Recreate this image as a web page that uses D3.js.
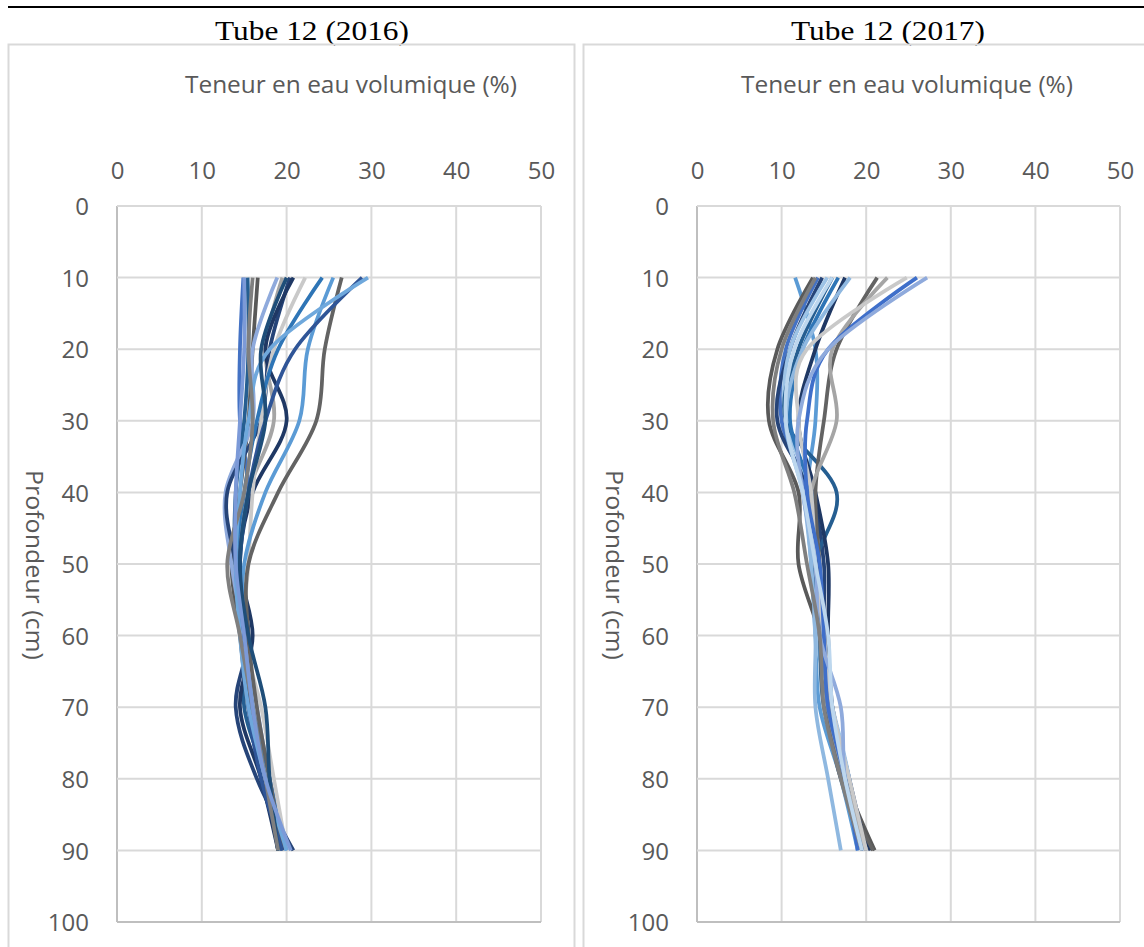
<!DOCTYPE html>
<html>
<head>
<meta charset="utf-8">
<script src="https://cdn.jsdelivr.net/npm/d3@7/dist/d3.min.js"></script>
<style>
  body { margin: 0; background: #fff; }
  svg { display: block; }
</style>
</head>
<body>
<div id="chart"></div>
<script>
const depths = [10, 20, 30, 40, 50, 60, 70, 80, 90]
const xTicks = [0, 10, 20, 30, 40, 50]
const yTicks = [0, 10, 20, 30, 40, 50, 60, 70, 80, 90, 100]

const titles = ["Tube 12 (2016)", "Tube 12 (2017)"]
const xTitle = "Teneur en eau volumique (%)"
const yTitle = "Profondeur (cm)"

// teneur en eau par profondeur, 2016
const colors2016 = ["#4472C4", "#255E91", "#595959", "#8FAADC", "#A5A5A5", "#264478", "#1F3864", "#C9C9C9",
  "#2E75B6", "#5B9BD5", "#636363", "#2F5597", "#6FA8DC", "#1F4E79", "#7F7F7F", "#7C9AD8"]
const values2016 = [
  [14.9, 14.5, 14.5, 15.5, 14, 15, 15.5, 17, 19.5],
  [15.4, 15.5, 15, 14, 14, 15.5, 15, 17.5, 19],
  [16.6, 16, 15.5, 14.5, 13.5, 14.5, 15.5, 17.5, 19],
  [18.9, 16, 16, 12.8, 13.5, 15, 16.5, 18, 20],
  [19.5, 17.5, 18.5, 15.5, 14.5, 15.5, 15.5, 17.5, 20],
  [20.4, 18, 17, 13, 14, 15.5, 14, 16.5, 20.8],
  [20.8, 17.5, 20, 16, 14.5, 16, 14.5, 17, 19],
  [22.2, 18.5, 17, 16, 15.5, 15, 17, 18.5, 20],
  [24.2, 19, 16.5, 15, 14, 15, 16, 18, 19.5],
  [25.5, 22.5, 21.5, 17.5, 15, 15, 16, 17.5, 20],
  [26.5, 24.5, 23.5, 19, 15.5, 15.5, 16.5, 18, 19.5],
  [28.9, 21, 17.5, 15.5, 14.5, 15, 15.5, 17, 19.5],
  [29.6, 18, 15.5, 14.5, 14, 14.5, 15.5, 17.5, 20],
  [20, 17, 17.5, 15.5, 14.5, 15.5, 17.5, 18, 19],
  [16, 15.5, 16, 15, 13, 14.5, 16, 17.5, 19],
  [15, 15, 14.5, 14, 14, 15, 16, 17.5, 20.5]
]

// teneur en eau par profondeur, 2017
const colors2017 = ["#5B9BD5", "#595959", "#4472C4", "#264478", "#9DC3E6", "#255E91", "#2E75B6", "#1F3864",
  "#8FB8E0", "#636363", "#A5A5A5", "#C9C9C9", "#3F6FCA", "#8FAADC", "#7F7F7F", "#BDD7EE"]
const values2017 = [
  [11.6, 14, 14, 13, 13.5, 14, 14.5, 17, 19],
  [13.7, 9.5, 8.5, 12, 12, 14.5, 15.5, 17.5, 21],
  [14.3, 10.5, 10, 13, 14, 15, 16, 18, 19.5],
  [14.8, 11, 9.5, 13.5, 15, 15, 16, 18, 20],
  [15.4, 11, 10.5, 13.5, 14, 14, 16, 18, 19],
  [16, 12, 10.5, 16.5, 14, 14.5, 15, 17.5, 19.5],
  [16.7, 12.5, 11, 13.5, 14, 15, 15.5, 17.5, 19.5],
  [17.5, 14, 12, 14, 15.5, 15.5, 16, 17.5, 20.5],
  [18.1, 12.5, 10.5, 12.5, 13.5, 14, 14, 15.5, 17],
  [21.3, 16.5, 15, 14, 14.5, 15, 15.5, 17, 20.8],
  [22.5, 16, 16.5, 13.5, 14, 15, 15.5, 17.5, 20],
  [24.8, 13, 12, 13.5, 14, 15, 16, 18, 20],
  [26, 15.5, 13, 13, 14.5, 15, 15.5, 17.5, 19],
  [27.2, 15.5, 12, 12.5, 14, 14.5, 17, 17.5, 19.5],
  [14, 10, 9, 11.5, 13, 14.5, 15, 17, 19.5],
  [16, 11.5, 10.5, 12.5, 14, 15.5, 16, 17.5, 19.5]
]

const W = 1144, H = 947
const FONT = "'Open Sans', sans-serif"
const TEXT = "#595959"
const GRID = "#D9D9D9"

const svg = d3.select("#chart").append("svg")
  .attr("width", W)
  .attr("height", H)

// black rule across the top
svg.append("line")
  .attr("x1", 8).attr("x2", W)
  .attr("y1", 7).attr("y2", 7)
  .attr("stroke", "#000")
  .attr("stroke-width", 2)

const panels = [
  { title: titles[0], titleX: 312, frameX: 8.5, frameW: 566, left: 117, right: 541, labelX: 89, xTitleX: 351, yTitleX: 26, values: values2016, colors: colors2016 },
  { title: titles[1], titleX: 888, frameX: 583.5, frameW: 580, left: 697, right: 1120, labelX: 669, xTitleX: 907, yTitleX: 606, values: values2017, colors: colors2017 }
]

const TOP = 206, BOTTOM = 922

panels.forEach(p => {
  const g = svg.append("g")

  // title above the frame
  g.append("text")
    .attr("x", p.titleX)
    .attr("y", 40)
    .attr("text-anchor", "middle")
    .attr("font-family", "'Liberation Serif', 'Times New Roman', serif")
    .attr("font-size", "28px")
    .attr("textLength", 194)
    .attr("lengthAdjust", "spacingAndGlyphs")
    .attr("fill", "#000")
    .text(p.title)

  // chart frame
  g.append("rect")
    .attr("x", p.frameX)
    .attr("y", 44.5)
    .attr("width", p.frameW)
    .attr("height", 960)
    .attr("fill", "none")
    .attr("stroke", GRID)
    .attr("stroke-width", 2)

  const x = d3.scaleLinear().domain([0, 50]).range([p.left, p.right])
  const y = d3.scaleLinear().domain([0, 100]).range([TOP, BOTTOM])

  // grid
  g.append("g").selectAll("line.v").data(xTicks).join("line")
    .attr("x1", d => x(d)).attr("x2", d => x(d))
    .attr("y1", TOP).attr("y2", BOTTOM)
    .attr("stroke", d => d === 0 ? "#BFBFBF" : GRID)
    .attr("stroke-width", 2)

  g.append("g").selectAll("line.h").data(yTicks).join("line")
    .attr("x1", p.left).attr("x2", p.right)
    .attr("y1", d => y(d)).attr("y2", d => y(d))
    .attr("stroke", d => d === 100 ? "#BFBFBF" : GRID)
    .attr("stroke-width", 2)

  // x axis on top, y axis on left, drawn with d3 axes then restyled
  const xAxis = g.append("g")
    .attr("transform", `translate(0, ${TOP - 27})`)
    .call(d3.axisTop(x).tickValues(xTicks).tickSize(0).tickPadding(0))
  const yAxis = g.append("g")
    .attr("transform", `translate(${p.labelX}, 0)`)
    .call(d3.axisLeft(y).tickValues(yTicks).tickSize(0).tickPadding(0))

  ;[xAxis, yAxis].forEach(a => {
    a.select(".domain").remove()
    a.selectAll("text")
      .attr("font-family", FONT)
      .attr("font-size", "24px")
      .attr("fill", TEXT)
  })
  yAxis.selectAll("text").attr("dy", "0.36em")

  // axis titles
  g.append("text")
    .attr("x", p.xTitleX)
    .attr("y", 93)
    .attr("text-anchor", "middle")
    .attr("font-family", FONT)
    .attr("font-size", "23px")
    .attr("textLength", 332)
    .attr("lengthAdjust", "spacingAndGlyphs")
    .attr("fill", TEXT)
    .text(xTitle)

  g.append("text")
    .attr("transform", `translate(${p.yTitleX}, 565) rotate(90)`)
    .attr("text-anchor", "middle")
    .attr("font-family", FONT)
    .attr("font-size", "23px")
    .attr("textLength", 190)
    .attr("lengthAdjust", "spacingAndGlyphs")
    .attr("fill", TEXT)
    .text(yTitle)

  // smoothed profiles, as Excel draws them
  const line = d3.line()
    .x(d => x(d[1]))
    .y(d => y(d[0]))
    .curve(d3.curveCatmullRom.alpha(0))

  p.values.forEach((vals, i) => {
    g.append("path")
      .datum(depths.map((d, j) => [d, vals[j]]))
      .attr("d", line)
      .attr("fill", "none")
      .attr("stroke", p.colors[i])
      .attr("stroke-width", 3.75)
  })
})
</script>
</body>
</html>
